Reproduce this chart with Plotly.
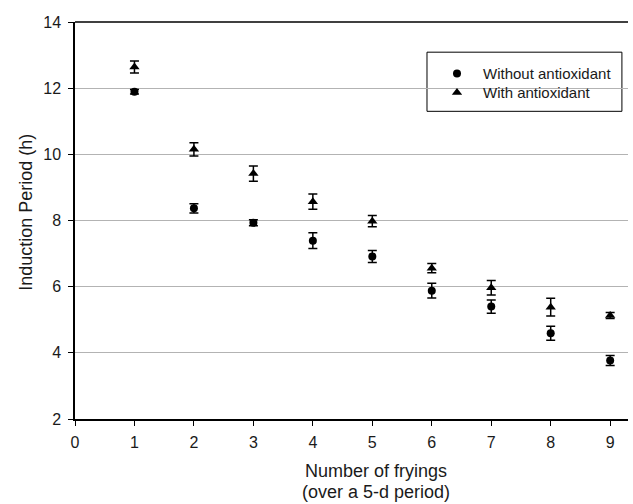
import plotly.graph_objects as go

fryings = [1, 2, 3, 4, 5, 6, 7, 8, 9]
without_vals = [11.89, 8.37, 7.93, 7.39, 6.91, 5.88, 5.40, 4.59, 3.77]
without_err = [0.07, 0.14, 0.09, 0.24, 0.18, 0.22, 0.20, 0.21, 0.15]
with_vals = [12.64, 10.15, 9.42, 8.57, 7.98, 6.56, 5.97, 5.38, 5.13]
with_err = [0.18, 0.20, 0.23, 0.23, 0.17, 0.14, 0.22, 0.27, 0.09]
x_ticks = [0, 1, 2, 3, 4, 5, 6, 7, 8, 9]
y_ticks = [2, 4, 6, 8, 10, 12, 14]

FONT = "Liberation Sans, Arial, Helvetica, sans-serif"
TXT = "#1a1a1a"

fig = go.Figure()
fig.add_trace(go.Scatter(
    x=fryings, y=without_vals, mode="markers", name="Without antioxidant",
    marker=dict(symbol="circle", size=8, color="black"),
    error_y=dict(type="data", array=without_err, color="black", thickness=1.5, width=4.5),
    legend="legend",
))
fig.add_trace(go.Scatter(
    x=fryings, y=with_vals, mode="markers", name="With antioxidant",
    marker=dict(symbol="triangle-up", size=9, color="black"),
    error_y=dict(type="data", array=with_err, color="black", thickness=1.5, width=4.5),
    legend="legend2",
))

# top frame line of plot area
fig.add_shape(type="line", xref="paper", yref="paper", x0=0, x1=1, y0=1, y1=1,
              line=dict(color="black", width=1.5))
# legend frame
fig.add_shape(type="rect", xref="paper", yref="paper", x0=0.6365, x1=0.989, y0=0.775, y1=0.924,
              line=dict(color="black", width=1), fillcolor="white", layer="below")

fig.add_annotation(text="Number of fryings", xref="paper", yref="paper", x=0.544, y=-0.130,
                   xanchor="center", yanchor="middle", showarrow=False,
                   font=dict(size=18, family=FONT, color=TXT))
fig.add_annotation(text="(over a 5-d period)", xref="paper", yref="paper", x=0.544, y=-0.1828,
                   xanchor="center", yanchor="middle", showarrow=False,
                   font=dict(size=18, family=FONT, color=TXT))
fig.add_annotation(text="Induction Period (h)", xref="paper", yref="paper", x=-0.0886, y=0.5195,
                   xanchor="center", yanchor="middle", showarrow=False, textangle=-90,
                   font=dict(size=18, family=FONT, color=TXT))

leg_common = dict(
    x=0.6365 + 4 / 553, xanchor="left", yanchor="top",
    borderwidth=0, bgcolor="rgba(0,0,0,0)",
    font=dict(size=15, family=FONT, color=TXT),
    itemwidth=42,
)

fig.update_layout(
    width=633, height=504,
    margin=dict(l=75, r=5, t=22, b=85),
    paper_bgcolor="white", plot_bgcolor="white",
    font=dict(family=FONT, size=16, color=TXT),
    showlegend=True,
    legend=dict(y=0.9112, **leg_common),
    legend2=dict(y=0.8634, **leg_common),
    xaxis=dict(
        range=[0, 9.3], tickvals=x_ticks, ticktext=[str(v) for v in x_ticks],
        showgrid=False, zeroline=False, automargin=False,
        showline=True, linecolor="black", linewidth=1.5,
        ticks="outside", ticklen=5, tickcolor="black",
        tickfont=dict(size=16, family=FONT, color=TXT),
        ticklabelstandoff=3,
    ),
    yaxis=dict(
        range=[2, 14], tickvals=y_ticks, ticktext=[str(v) for v in y_ticks],
        showgrid=True, gridcolor="#b3b3b3", gridwidth=1,
        zeroline=False, automargin=False,
        showline=True, linecolor="black", linewidth=1.5,
        ticks="outside", ticklen=5, tickcolor="black",
        tickfont=dict(size=16, family=FONT, color=TXT),
        ticklabelstandoff=4,
    ),
)

fig.write_html("out.html", config={"displayModeBar": False},
               post_script="document.body.style.margin='0';")
